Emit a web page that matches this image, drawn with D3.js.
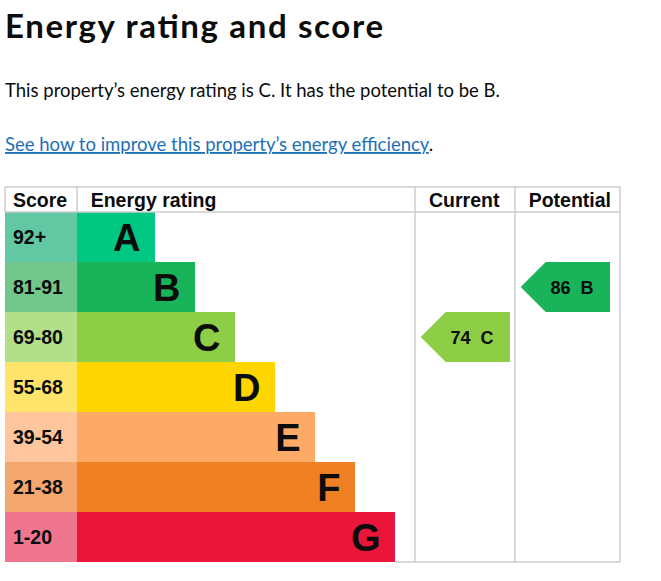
<!DOCTYPE html>
<html>
<head>
<meta charset="utf-8">
<script src="https://cdn.jsdelivr.net/npm/d3@7"></script>
<style>
  html, body { margin: 0; padding: 0; background: #fff; }
  svg { display: block; }
</style>
</head>
<body>
<div id="chart"></div>
<script>
// chart data
var bands = ["A", "B", "C", "D", "E", "F", "G"],
	scoreRanges = ["92+", "81-91", "69-80", "55-68", "39-54", "21-38", "1-20"],
	bandColors = ["#00c781", "#19b459", "#8dce46", "#ffd500", "#fcaa65", "#ef8023", "#e9153b"],
	scoreColors = ["#62c8a4", "#72c88c", "#b3df8a", "#ffe46b", "#fdc69c", "#f4a76e", "#f0768f"],
	columnHeaders = ["Score", "Energy rating", "Current", "Potential"],
	ratings = [
		{ column: "Current", score: 74, band: "C" },
		{ column: "Potential", score: 86, band: "B" }
	],
	titleText = "Energy rating and score",
	summaryText = "This property\u2019s energy rating is C. It has the potential to be B.",
	linkText = "See how to improve this property\u2019s energy efficiency";

(function() {
	"use strict";

	var chartWidth = 661,
		chartHeight = 581,
		table = { left: 5, top: 187, header: 212, bottom: 562, right: 620 },
		colEdges = { "Score": 5, "Energy rating": 77, "Current": 415, "Potential": 515 },
		headerPad = { "Score": 8, "Energy rating": 13.7, "Current": 14, "Potential": 13.7 },
		gridColor = "#cccccc",
		textFont = "'Liberation Sans', Arial, sans-serif",
		headFont = "Lato, 'Open Sans', sans-serif";

	var svg = d3.select("#chart")
		.append("svg")
		.attr("width", chartWidth)
		.attr("height", chartHeight);

	// page text
	svg.append("text")
		.attr("x", 5)
		.attr("y", 38)
		.attr("textLength", 378)
		.attr("lengthAdjust", "spacing")
		.style("font-family", headFont)
		.style("font-weight", 700)
		.style("font-size", "33px")
		.style("fill", "#0b0c0c")
		.text(titleText);

	svg.append("text")
		.attr("x", 5)
		.attr("y", 96.5)
		.style("font-family", headFont)
		.style("font-size", "18.5px")
		.style("fill", "#0b0c0c")
		.text(summaryText);

	var link = svg.append("text")
		.attr("x", 5)
		.attr("y", 151)
		.style("font-family", headFont)
		.style("font-size", "18.5px");
	link.append("tspan")
		.style("fill", "#1d70b8")
		.style("text-decoration", "underline")
		.text(linkText);
	link.append("tspan")
		.style("fill", "#0b0c0c")
		.text(".");

	// scales
	var y = d3.scaleBand()
		.domain(bands)
		.range([table.header, table.bottom]);

	var barEnd = d3.scaleLinear()
		.domain([0, bands.length - 1])
		.range([155, 395]);

	var rowsG = svg.append("g").attr("class", "rows");

	// score cells
	rowsG.selectAll(".scoreCell")
		.data(bands)
		.enter()
		.append("rect")
		.attr("class", "scoreCell")
		.attr("x", colEdges["Score"])
		.attr("y", function(d) { return y(d); })
		.attr("width", colEdges["Energy rating"] - colEdges["Score"])
		.attr("height", y.bandwidth())
		.style("fill", function(d, i) { return scoreColors[i]; });

	rowsG.selectAll(".scoreLabel")
		.data(bands)
		.enter()
		.append("text")
		.attr("class", "scoreLabel")
		.attr("x", 13)
		.attr("y", function(d) { return y(d) + y.bandwidth() / 2 + 7; })
		.style("font-family", textFont)
		.style("font-weight", 700)
		.style("font-size", "19.5px")
		.style("fill", "#0b0c0c")
		.text(function(d, i) { return scoreRanges[i]; });

	// band bars
	rowsG.selectAll(".bar")
		.data(bands)
		.enter()
		.append("rect")
		.attr("class", "bar")
		.attr("x", colEdges["Energy rating"])
		.attr("y", function(d) { return y(d); })
		.attr("width", function(d, i) { return barEnd(i) - colEdges["Energy rating"]; })
		.attr("height", y.bandwidth())
		.style("fill", function(d, i) { return bandColors[i]; });

	rowsG.selectAll(".barLabel")
		.data(bands)
		.enter()
		.append("text")
		.attr("class", "barLabel")
		.attr("x", function(d, i) { return barEnd(i) - 14.5; })
		.attr("y", function(d) { return y(d) + y.bandwidth() / 2 + 14; })
		.attr("text-anchor", "end")
		.style("font-family", textFont)
		.style("font-weight", 700)
		.style("font-size", "38px")
		.style("fill", "#0b0c0c")
		.text(function(d) { return d; });

	// grid
	var gridG = svg.append("g")
		.attr("class", "grid")
		.style("stroke", gridColor)
		.style("stroke-width", 1.5)
		.style("fill", "none");

	gridG.append("line")
		.attr("x1", table.left).attr("x2", table.right)
		.attr("y1", table.top).attr("y2", table.top);
	gridG.append("line")
		.attr("x1", table.left).attr("x2", table.right)
		.attr("y1", table.header).attr("y2", table.header);
	gridG.append("line")
		.attr("x1", barEnd(bands.length - 1)).attr("x2", table.right)
		.attr("y1", table.bottom).attr("y2", table.bottom);
	gridG.append("line")
		.attr("x1", table.left).attr("x2", table.left)
		.attr("y1", table.top).attr("y2", table.header);
	gridG.append("line")
		.attr("x1", colEdges["Energy rating"]).attr("x2", colEdges["Energy rating"])
		.attr("y1", table.top).attr("y2", table.header);
	[colEdges["Current"], colEdges["Potential"], table.right].forEach(function(x) {
		gridG.append("line")
			.attr("x1", x).attr("x2", x)
			.attr("y1", table.top).attr("y2", table.bottom);
	});

	// headers
	svg.selectAll(".colHeader")
		.data(columnHeaders)
		.enter()
		.append("text")
		.attr("class", "colHeader")
		.attr("x", function(d) { return colEdges[d] + headerPad[d]; })
		.attr("y", 206.5)
		.style("font-family", textFont)
		.style("font-weight", 700)
		.style("font-size", "19.5px")
		.style("fill", "#0b0c0c")
		.text(function(d) { return d; });

	// rating arrows
	var arrowTip = 5.7,
		arrowRight = 95,
		half = y.bandwidth() / 2;

	var arrowG = svg.selectAll(".arrow")
		.data(ratings)
		.enter()
		.append("g")
		.attr("class", "arrow")
		.attr("transform", function(d) {
			return "translate(" + colEdges[d.column] + "," + y(d.band) + ")";
		});

	arrowG.append("path")
		.attr("d", "M " + arrowTip + "," + half +
			" " + (arrowTip + half) + ",0" +
			" " + arrowRight + ",0" +
			" " + arrowRight + "," + y.bandwidth() +
			" " + (arrowTip + half) + "," + y.bandwidth() + " Z")
		.style("fill", function(d) { return bandColors[bands.indexOf(d.band)]; });

	arrowG.append("text")
		.attr("x", arrowRight - 38)
		.attr("y", half + 6.5)
		.attr("text-anchor", "middle")
		.style("font-family", textFont)
		.style("font-weight", 700)
		.style("font-size", "18px")
		.style("fill", "#0b0c0c")
		.text(function(d) { return d.score + "\u00a0\u00a0" + d.band; });
})();
</script>
</body>
</html>
